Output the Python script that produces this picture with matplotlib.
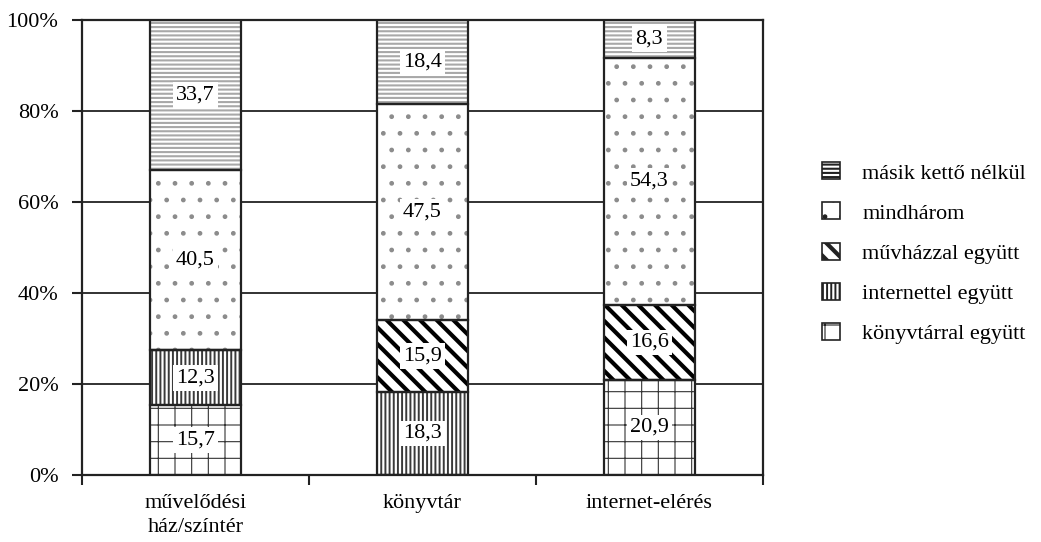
import matplotlib
matplotlib.use("Agg")
import matplotlib.pyplot as plt
from matplotlib.patches import Patch
import numpy as np

plt.rcParams['font.family'] = ['Liberation Serif', 'DejaVu Serif']

categories = ["művelődési\nház/színtér", "könyvtár", "internet-elérés"]
series_names = ["könyvtárral együtt", "internettel együtt", "művházzal együtt",
                "mindhárom", "másik kettő nélkül"]
# values per series, per category (nan = segment absent)
konyvtarral = [15.7, np.nan, 20.9]
internettel = [12.3, 18.3, np.nan]
muvhazzal = [np.nan, 15.9, 16.6]
mindharom = [40.5, 47.5, 54.3]
masik_nelkul = [33.7, 18.4, 8.3]

series_vals = [konyvtarral, internettel, muvhazzal, mindharom, masik_nelkul]
hatches = ['+', '||||', '\\\\', '.', '----']
hatch_colors = ['#333333', '#3a3a3a', '#000000', '#8c8c8c', '#a8a8a8']
hatch_lw = [0.8, 1.4, 3.0, 1.0, 1.5]

FS = 16


def set_hlw(p, lw):
    if hasattr(p, 'set_hatch_linewidth'):
        p.set_hatch_linewidth(lw)
    else:
        p._hatch_linewidth = lw


fig = plt.figure(figsize=(10.41, 5.42), dpi=100)
ax = fig.add_axes([0.0788, 0.1236, 0.654, 0.839])

data = np.array(series_vals, dtype=float)
vals0 = np.nan_to_num(data)
totals = vals0.sum(axis=0)
pct = vals0 / totals * 100

x = np.arange(len(categories))
width = 0.4
bottom = np.zeros(len(categories))
for i in range(len(series_names)):
    with plt.rc_context({'hatch.linewidth': hatch_lw[i]}):
        bars = ax.bar(x, pct[i], width, bottom=bottom, color='white',
                      edgecolor=hatch_colors[i], hatch=hatches[i], linewidth=0, zorder=2)
        for b in bars:
            set_hlw(b, hatch_lw[i])
    ax.bar(x, pct[i], width, bottom=bottom, fill=False, edgecolor='#222222',
           linewidth=1.6, zorder=3)
    for j in range(len(categories)):
        if not np.isnan(data[i, j]):
            ax.text(x[j], bottom[j] + pct[i, j] / 2, f"{data[i, j]:.1f}".replace('.', ','),
                    ha='center', va='center', fontsize=FS, zorder=4,
                    bbox=dict(boxstyle='square,pad=0.15', facecolor='white', edgecolor='none'))
    bottom += pct[i]

ax.set_xlim(-0.5, 2.5)
ax.set_ylim(0, 100)
ax.set_yticks([0, 20, 40, 60, 80, 100])
ax.set_yticklabels(['0%', '20%', '40%', '60%', '80%', '100%'], fontsize=FS)
ax.yaxis.grid(True, color='#222222', linewidth=1.3, zorder=0)
ax.set_axisbelow(True)
ax.set_xticks(x)
ax.set_xticklabels(categories, fontsize=FS, linespacing=1.35)
ax.set_xticks([-0.5, 0.5, 1.5, 2.5], minor=True)
ax.tick_params(axis='x', which='major', length=0, pad=14)
ax.tick_params(axis='x', which='minor', length=7, width=1.5, direction='out', color='#222222')
ax.tick_params(axis='y', length=7, width=1.5, direction='out', pad=10, color='#222222')
for s in ax.spines.values():
    s.set_linewidth(1.6)
    s.set_color('#222222')

handles = []
for i in range(len(series_names)):
    with plt.rc_context({'hatch.linewidth': hatch_lw[i]}):
        p = Patch(facecolor='white', edgecolor='#222222', hatch=hatches[i],
                  label=series_names[i], linewidth=1.2)
        set_hlw(p, hatch_lw[i])
    handles.append(p)
handles = handles[::-1]
lws = hatch_lw[::-1]
leg = fig.legend(handles=handles, loc='center left', bbox_to_anchor=(0.79, 0.533),
                 frameon=False, fontsize=FS, handlelength=0.8, handleheight=0.8,
                 labelspacing=0.85, handletextpad=1.0, borderaxespad=0, borderpad=0)
for p, lw in zip(leg.get_patches(), lws):
    set_hlw(p, lw)

fig.savefig('out.png', dpi=100)
